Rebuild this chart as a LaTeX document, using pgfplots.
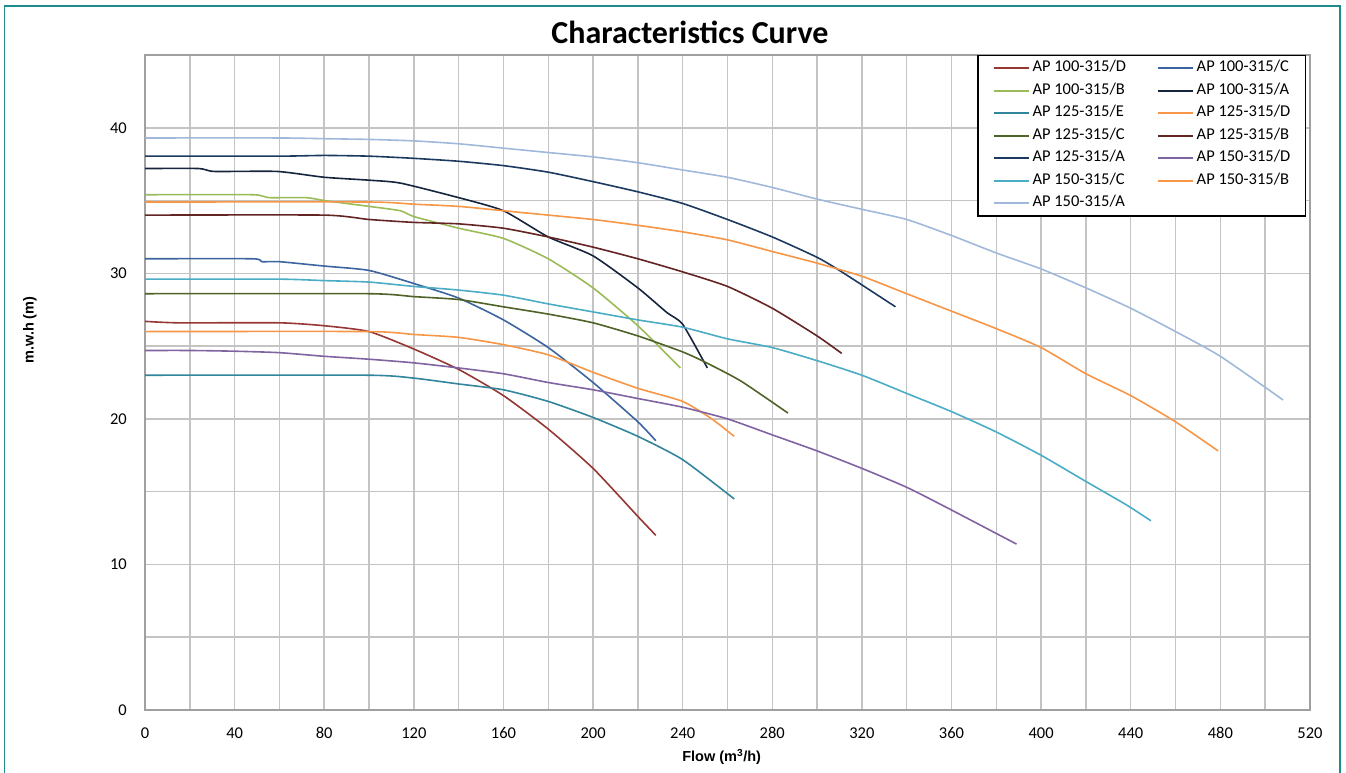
\documentclass[border=0pt]{standalone}
\usepackage{fontspec}
\setmainfont{Carlito}
\newfontfamily\arialf{Liberation Sans}
\usepackage{graphicx}
\usepackage{pgfplots}
\pgfplotsset{compat=1.18}
\definecolor{gridc}{RGB}{196,196,196}
\definecolor{axisc}{RGB}{160,160,160}
\definecolor{framec}{RGB}{30,140,140}
\definecolor{cDa}{RGB}{150,55,52}
\definecolor{cCa}{RGB}{60,100,160}
\definecolor{cBa}{RGB}{155,187,89}
\definecolor{cAa}{RGB}{22,36,62}
\definecolor{cEb}{RGB}{49,133,156}
\definecolor{cDb}{RGB}{247,150,70}
\definecolor{cCb}{RGB}{79,98,40}
\definecolor{cBb}{RGB}{99,37,35}
\definecolor{cAb}{RGB}{28,58,96}
\definecolor{cDc}{RGB}{128,100,162}
\definecolor{cCc}{RGB}{75,172,198}
\definecolor{cBc}{RGB}{247,150,70}
\definecolor{cAc}{RGB}{160,185,218}
\begin{document}
\begin{tikzpicture}
\useasboundingbox (0pt,0pt) rectangle (1346pt,772pt);
\draw[framec, line width=1.5pt] (4.5pt,-5pt) rectangle (1340pt,766pt);
\node[font=\bfseries\fontsize{32}{36}\selectfont] at (690pt,740pt) {Characteristics Curve};
\begin{axis}[
 at={(145pt,62pt)}, anchor=south west,
 scale only axis, width=1165pt, height=655pt,
 xmin=0, xmax=520, ymin=0, ymax=45,
 xtick={0,40,...,520}, minor xtick={20,60,...,500},
 ytick={0,10,...,40}, minor ytick={5,15,...,45},
 grid=both,
 major grid style={draw=gridc, line width=1.5pt},
 minor grid style={draw=gridc, line width=1.5pt},
 major tick length=0pt, minor tick length=0pt,
 axis line style={draw=axisc, line width=1.5pt},
 tick label style={font=\fontsize{16.5}{19}\selectfont},
 /pgf/number format/assume math mode=true,
 yticklabel style={anchor=east, inner sep=0pt, xshift=-18pt},
 xticklabel style={anchor=center, inner sep=0pt, yshift=-23pt},
 xlabel={Flow (m\textsuperscript{3}/h)},
 ylabel={m.w.h (m)},
 every axis x label/.style={at={(rel axis cs:0.495,0)}, yshift=-47pt, anchor=center, font=\arialf\bfseries\fontsize{14.5}{17}\selectfont},
 every axis y label/.style={at={(rel axis cs:0,0.58)}, xshift=-115pt, rotate=90, anchor=center, font=\arialf\bfseries\fontsize{14.5}{17}\selectfont},
 legend columns=2,
 legend cell align=left,
 legend image code/.code={\draw[#1] (0pt,0pt) -- (35pt,0pt);},
 legend style={at={(0.9966,1)}, anchor=north east, draw=black, line width=1.5pt,
   font=\fontsize{16.5}{18}\selectfont, inner xsep=15pt, inner ysep=5pt, row sep=7.5pt,
   nodes={inner sep=0pt, text height=11pt, text depth=4pt},
   /tikz/every odd column/.append style={column sep=3pt},
   /tikz/every even column/.append style={column sep=31pt}},
 every axis plot/.append style={line width=1.6pt, smooth, tension=0.35, mark=none},
]
\addplot[cDa] coordinates {(0,26.7)(15,26.6)(60,26.6)(80,26.4)(100,26.0)(120,24.8)(140,23.4)(160,21.6)(180,19.3)(200,16.6)(220,13.3)(228,12.0)};
\addlegendentry{AP 100-315/D}
\addplot[cCa] coordinates {(0,31.0)(48,31.0)(52,30.8)(60,30.8)(80,30.5)(100,30.2)(120,29.3)(140,28.3)(160,26.8)(180,24.9)(200,22.5)(220,19.8)(228,18.5)};
\addlegendentry{AP 100-315/C}
\addplot[cBa] coordinates {(0,35.4)(48,35.4)(55,35.2)(72,35.2)(80,35.0)(100,34.6)(114,34.3)(120,33.9)(140,33.1)(160,32.4)(180,31.0)(200,29.0)(220,26.4)(239,23.5)};
\addlegendentry{AP 100-315/B}
\addplot[cAa] coordinates {(0,37.2)(24,37.2)(31,37.0)(59,37.0)(80,36.6)(100,36.4)(114,36.2)(140,35.2)(160,34.3)(180,32.5)(200,31.2)(220,29.0)(233,27.3)(240,26.5)(251,23.5)};
\addlegendentry{AP 100-315/A}
\addplot[cEb] coordinates {(0,23.0)(100,23.0)(120,22.8)(140,22.4)(160,22.0)(180,21.2)(200,20.1)(220,18.8)(240,17.2)(263,14.5)};
\addlegendentry{AP 125-315/E}
\addplot[cDb] coordinates {(0,26.0)(100,26.0)(120,25.8)(140,25.6)(160,25.1)(180,24.4)(200,23.2)(220,22.1)(240,21.2)(253,20.0)(263,18.8)};
\addlegendentry{AP 125-315/D}
\addplot[cCb] coordinates {(0,28.6)(100,28.6)(120,28.4)(140,28.2)(160,27.7)(180,27.2)(200,26.6)(220,25.7)(240,24.6)(250,23.9)(266,22.6)(287,20.4)};
\addlegendentry{AP 125-315/C}
\addplot[cBb] coordinates {(0,34.0)(80,34.0)(100,33.7)(120,33.5)(140,33.4)(160,33.1)(180,32.5)(200,31.8)(220,31.0)(240,30.1)(260,29.1)(280,27.6)(300,25.7)(311,24.5)};
\addlegendentry{AP 125-315/B}
\addplot[cAb] coordinates {(0,38.05)(60,38.05)(80,38.1)(100,38.05)(120,37.9)(140,37.7)(160,37.4)(180,36.95)(200,36.3)(220,35.6)(240,34.8)(260,33.7)(280,32.5)(300,31.1)(311,30.1)(335,27.7)};
\addlegendentry{AP 125-315/A}
\addplot[cDc] coordinates {(0,24.7)(20,24.7)(40,24.65)(60,24.55)(80,24.3)(100,24.1)(120,23.85)(140,23.5)(160,23.1)(180,22.5)(200,22.0)(220,21.4)(240,20.8)(260,20.0)(280,18.9)(300,17.8)(320,16.6)(340,15.3)(358,13.9)(389,11.4)};
\addlegendentry{AP 150-315/D}
\addplot[cCc] coordinates {(0,29.6)(60,29.6)(80,29.5)(100,29.4)(120,29.1)(140,28.85)(160,28.5)(180,27.9)(200,27.35)(220,26.8)(240,26.3)(260,25.5)(280,24.9)(300,24.0)(320,23.0)(340,21.75)(360,20.5)(380,19.1)(400,17.5)(420,15.7)(438,14.1)(449,13.0)};
\addlegendentry{AP 150-315/C}
\addplot[cBc] coordinates {(0,34.9)(100,34.9)(120,34.75)(140,34.6)(160,34.3)(180,34.0)(200,33.7)(220,33.3)(240,32.85)(260,32.3)(280,31.5)(300,30.7)(320,29.8)(340,28.6)(360,27.4)(380,26.2)(400,24.9)(420,23.1)(440,21.6)(460,19.8)(479,17.8)};
\addlegendentry{AP 150-315/B}
\addplot[cAc] coordinates {(0,39.3)(60,39.3)(80,39.25)(100,39.2)(120,39.1)(140,38.9)(160,38.6)(180,38.3)(200,38.0)(220,37.6)(240,37.1)(260,36.6)(280,35.9)(300,35.1)(320,34.4)(340,33.7)(360,32.6)(380,31.4)(400,30.3)(420,29.0)(440,27.6)(460,26.0)(480,24.3)(508,21.3)};
\addlegendentry{AP 150-315/A}
\end{axis}
\end{tikzpicture}
\end{document}
